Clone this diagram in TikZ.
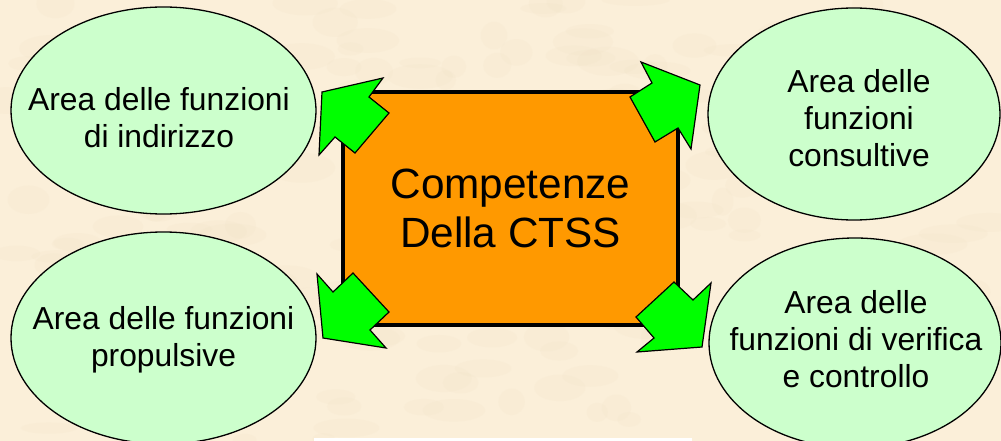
\documentclass[tikz,border=0pt]{standalone}
\usepackage{fontspec}
\setmainfont{Liberation Sans}
\usepackage{tikz}
\usetikzlibrary{shapes}
\usetikzlibrary{positioning}

\definecolor{parch}{RGB}{251,239,217}
\definecolor{parchdark}{RGB}{240,224,196}
\definecolor{paleg}{RGB}{204,255,204}
\definecolor{boxor}{RGB}{255,153,0}
\definecolor{arrg}{RGB}{0,255,0}

\begin{document}
\begin{tikzpicture}[x=1pt, y=-1pt,
		area/.style={ellipse, draw, line width=1.3pt, fill=paleg, inner sep=0pt},
		areatext/.style={align=center, font=\fontsize{31.8}{37}\selectfont},
		bigarrow/.style={draw, line width=1.2pt, fill=arrg, line join=miter}]
				\useasboundingbox (0,0) rectangle (1001,441);
				\fill[parch] (0,0) rectangle (1001,441);
				% a bit of parchment texture
				\pgfmathsetseed{7}
				\foreach \i in {1,...,220} {
					\fill[parchdark, opacity=0.15] (rnd*1001,rnd*441) ellipse ({10+rnd*25} and {5+rnd*10});
				}
				\fill[white] (314,437.5) rectangle (692,441);
				
				\node[area, minimum width=305pt, minimum height=207pt] (1) at (163.5,110.5) {};
				\node[area, minimum width=305pt, minimum height=212pt] (2) at (163.5,338) {};
				\node[area, minimum width=292pt, minimum height=212pt] (3) at (854,114) {};
				\node[area, minimum width=292pt, minimum height=210pt] (4) at (855,343) {};
				
				\node[areatext] (1t) at (159,118) {Area delle funzioni\\di indirizzo};
				\node[areatext] (2t) at (163.5,340) {Area delle funzioni\\propulsive};
				\node[areatext] (3t) at (859,118) {Area delle\\funzioni\\consultive};
				\node[areatext] (4t) at (856,339) {Area delle\\funzioni di verifica\\e controllo};
				
				\node[rectangle, draw, line width=4pt, fill=boxor, minimum width=335pt, minimum height=233pt,
					align=center, font=\fontsize{42.3}{49}\selectfont] (0) at (510.5,208.5) {Competenze\\Della CTSS};
				
				\draw[bigarrow] (322,92) -- (383,78) -- (369,97) -- (389,113) -- (355,153) -- (335,137) -- (319,155) -- cycle;
				\draw[bigarrow] (641,62) -- (652,83) -- (630,97) -- (655,142) -- (678,128) -- (691,149) -- (700,85) -- cycle;
				\draw[bigarrow] (317,274) -- (333,292) -- (353,273) -- (389,312) -- (370,330) -- (386,348) -- (323,338) -- cycle;
				\draw[bigarrow] (674,282) -- (693,300) -- (711,283) -- (702,347) -- (637,352) -- (654,338) -- (636,317) -- cycle;
			\end{tikzpicture}
\end{document}
